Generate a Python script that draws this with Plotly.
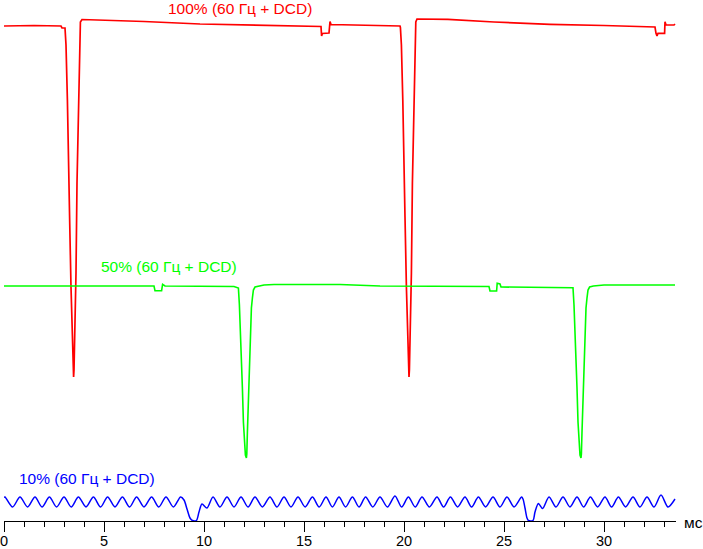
import plotly.graph_objects as go

# ---- data (time in ms, signal level in arbitrary units) ----
red_t = [0, 1.5, 2.85, 2.9, 3.05, 3.1, 3.17, 3.23, 3.28, 3.35, 3.42, 3.45, 3.48, 3.5, 3.55, 3.6, 3.65, 3.72, 3.77, 3.82, 3.9,
         5.0, 7.0, 9.8, 13.1, 15.8, 15.85, 15.88, 15.92, 16.25, 16.3, 16.35, 17.5, 19.8,
         19.82, 19.87, 19.94, 20.0, 20.05, 20.12, 20.19, 20.22, 20.25, 20.27, 20.32, 20.37, 20.42, 20.49, 20.54, 20.59, 20.65,
         22.2, 24.5, 27.3, 30.0, 32.3, 32.55, 32.6, 32.65, 32.7, 33.03, 33.05, 33.1, 33.5, 33.55]
red_v = [494, 494.5, 494, 492, 492, 475, 420, 372, 303, 233, 177, 144, 143, 150, 187, 247, 337, 403, 477, 498, 500.5,
         500, 498.5, 496, 494.5, 493.3, 493.5, 484, 486.5, 487, 498.5, 495.5, 495, 494,
         492.5, 475, 420, 372, 303, 233, 177, 144, 143, 150, 187, 247, 337, 403, 477, 498, 501,
         500.7, 498, 495.7, 494.5, 493.3, 493, 486.7, 484, 486.7, 486.7, 498.3, 495, 495, 496]

green_t = [0, 3.0, 7.5, 7.55, 7.88, 7.93, 8.05, 11.5, 11.72, 11.77, 11.8, 11.87, 11.92, 11.97, 12.02, 12.07, 12.12,
           12.14, 12.17, 12.22, 12.27, 12.32, 12.37, 12.42, 12.47, 12.55, 13.0, 13.5, 16.8, 18.8, 24.25, 24.3, 24.63,
           24.66, 24.8, 24.85, 28.0, 28.45, 28.5, 28.53, 28.6, 28.65, 28.7, 28.75, 28.8, 28.85, 28.87, 28.9, 28.95,
           29.0, 29.05, 29.1, 29.15, 29.2, 29.28, 29.47, 30.0, 33.55]
green_v = [234, 234.2, 234, 229.3, 229.3, 235.7, 234, 233.5, 232, 215, 193, 165, 132, 98, 75, 65, 62,
           66, 88, 120, 155, 187, 212, 222, 230, 233, 235, 235.5, 235.5, 234, 233.5, 229, 229,
           236.7, 236, 233, 233, 232.3, 215, 193, 165, 132, 98, 75, 65, 62, 66, 88, 120,
           155, 187, 212, 222, 230, 233, 234, 235, 235]

blue_t = [0, 0.05, 0.43, 0.8, 1.18, 1.55, 1.9, 2.27, 2.63, 3.0, 3.36, 3.72, 4.1, 4.47, 4.83, 5.18, 5.55, 5.92,
          6.28, 6.63, 7.0, 7.38, 7.74, 8.1, 8.47, 8.83,
          9.0, 9.15, 9.3, 9.42, 9.62, 9.75, 9.9, 10.15, 10.45,
          10.8, 11.15, 11.5, 11.85, 12.2, 12.55, 12.92, 13.3, 13.65, 14.0, 14.35, 14.7, 15.06, 15.42, 15.76, 16.1,
          16.42, 16.75, 17.08, 17.42, 17.75, 18.08, 18.44, 18.8, 19.17, 19.55, 19.88, 20.22, 20.56, 20.9, 21.27,
          21.65, 21.98, 22.32, 22.68, 23.05, 23.38, 23.72, 24.08, 24.45, 24.8, 25.15, 25.5, 25.88,
          25.95, 26.05, 26.15, 26.22, 26.45, 26.55, 26.72, 26.93, 27.25,
          27.6, 27.95, 28.3, 28.65, 28.98, 29.32, 29.68, 30.05, 30.38, 30.72, 31.08, 31.45, 31.8, 32.15, 32.5,
          32.85, 33.2, 33.55]
blue_v = [22.5, 23, 13, 23, 13, 23, 13, 23, 13, 23, 13, 23, 13, 23, 13, 23, 13, 23,
          13, 23, 13, 23, 13, 23, 13, 23,
          20, 11, 2, -0.5, -0.5, 8, 16, 12, 23,
          13, 23, 13, 23, 13, 23, 13, 23, 13, 23, 13, 23, 13, 23, 13, 23,
          13, 23, 13, 23, 13, 23, 13, 23, 13, 24, 13, 23, 13, 23, 13,
          23, 13, 23, 13, 23, 13, 23, 13, 23, 13, 23, 13, 23,
          21, 12, 2, -0.5, -0.5, 8, 16.5, 11.5, 23,
          13, 23, 13, 23, 13, 23, 13, 23, 13, 23, 13, 23, 13, 23, 13,
          25, 13, 21]

x_ticks = [0, 5, 10, 15, 20, 25, 30]
labels = ["100% (60 Гц + DCD)", "50% (60 Гц + DCD)", "10% (60 Гц + DCD)"]
unit_label = "мс"

FONT = "Liberation Sans, Arial, sans-serif"

fig = go.Figure()
fig.add_trace(go.Scatter(x=red_t, y=red_v, mode="lines", line=dict(color="#ff0000", width=1.7)))
fig.add_trace(go.Scatter(x=green_t, y=green_v, mode="lines", line=dict(color="#00ff00", width=1.6)))
fig.add_trace(go.Scatter(x=blue_t, y=blue_v, mode="lines",
                         line=dict(color="#0000ff", width=1.5, shape="spline", smoothing=0.8)))

ann = [
    dict(x=11.775, y=512, text=labels[0], font=dict(color="#ff0000")),
    dict(x=8.25, y=253.5, text=labels[1], font=dict(color="#00ff00")),
    dict(x=4.125, y=41.5, text=labels[2], font=dict(color="#0000ff")),
]
for a in ann:
    a["font"].update(family=FONT, size=15.5)
    fig.add_annotation(xref="x", yref="y", showarrow=False, xanchor="center", yanchor="middle",
                       borderpad=0, **a)

# unit label to the right of the axis end
fig.add_annotation(xref="paper", yref="paper", x=1.0253, y=-0.002, text=unit_label, showarrow=False,
                   xanchor="center", yanchor="middle", borderpad=0,
                   font=dict(family=FONT, size=15.5, color="black"))

# tick labels placed as text just below the major ticks (so they fit in the 549 px page)
for v in x_ticks:
    fig.add_annotation(xref="x", yref="paper", x=v, y=-0.0375, text=str(v), showarrow=False,
                       xanchor="center", yanchor="middle", borderpad=0,
                       font=dict(family=FONT, size=14.5, color="black"))

fig.update_layout(
    template="none",
    width=703, height=549,
    margin=dict(l=4, r=27, t=0, b=28, autoexpand=False),
    paper_bgcolor="white", plot_bgcolor="white",
    showlegend=False,
    font=dict(family=FONT, size=15, color="black"),
)
fig.update_xaxes(
    range=[0, 33.6], showgrid=False, zeroline=False, automargin=False,
    showline=True, linecolor="black", linewidth=1,
    ticks="outside", ticklen=10, tickcolor="black", tickwidth=1,
    tickvals=x_ticks, showticklabels=False,
    minor=dict(dtick=1, tick0=0, ticks="outside", ticklen=5, tickcolor="black", tickwidth=1, showgrid=False),
)
fig.update_yaxes(range=[-1, 520], visible=False, showgrid=False, zeroline=False, automargin=False)

fig.write_html("out.html", config={"displayModeBar": False},
               post_script="document.body.style.margin='0';document.body.style.overflow='hidden';")
